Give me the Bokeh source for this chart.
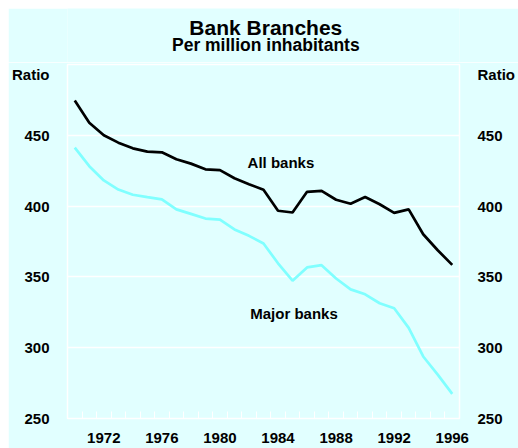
from bokeh.plotting import figure
from bokeh.models import FixedTicker, LinearAxis, Label, ColumnDataSource, Range1d
from bokeh.layouts import column
from bokeh.embed import file_html
from bokeh.resources import INLINE

# ---- data ----
years = list(range(1970, 1997))
all_banks = [474.6, 458.9, 450.0, 444.8, 440.8, 438.5, 438.0, 433.1, 430.0, 426.0,
             425.4, 419.7, 415.5, 411.5, 396.7, 395.5, 410.1, 410.8, 404.5, 401.7,
             406.4, 401.3, 395.2, 397.7, 380.1, 368.8, 358.5]
major_banks = [441.3, 428.2, 418.1, 411.7, 408.0, 406.3, 404.7, 397.7, 394.5, 391.2,
               390.5, 383.5, 379.0, 373.6, 359.6, 347.3, 356.7, 358.3, 348.9, 341.2,
               337.7, 331.4, 327.9, 314.0, 293.8, 281.0, 267.4]
y_ticks = [250, 300, 350, 400, 450]
x_label_years = [1972, 1976, 1980, 1984, 1988, 1992, 1996]
year_boundaries = list(range(1971, 1997))

title_text = "Bank Branches"
subtitle_text = "Per million inhabitants"
unit_text = "Ratio"
unit_level = 493  # where the "Ratio" heading sits on the value axis

BG = "#E1FFFF"
CYAN = "#80FFFF"
FONT = "Liberation Sans"

# ---- title strip ----
W = 510
TH = 54
tf = figure(width=W, height=TH, x_range=Range1d(0, W), y_range=Range1d(TH, 0),
            output_backend="svg", toolbar_location=None,
            background_fill_color=BG, border_fill_color=BG,
            min_border_left=0, min_border_right=0, min_border_top=0, min_border_bottom=0,
            x_axis_location=None, y_axis_location=None)
tf.grid.visible = False
tf.outline_line_color = None

def label(fig, text, x, y, size):
    fig.add_layout(Label(x=x, y=y, text=text, text_font=FONT, text_font_style="bold",
                         text_font_size=size, text_align="center",
                         text_baseline="middle", text_color="black"))

label(tf, title_text, 258, 18.5, "21px")
label(tf, subtitle_text, 258, 36.5, "17.5px")

# ---- chart ----
x_mid = [y + 0.5 for y in years]
src = ColumnDataSource(dict(x=x_mid, all=all_banks, major=major_banks))

p = figure(width=W, height=386, x_range=(1970, 1997), y_range=(250, 500),
           output_backend="svg", toolbar_location=None,
           background_fill_color=BG, border_fill_color=BG,
           min_border_left=54, min_border_right=49, min_border_top=2, min_border_bottom=30,
           y_axis_location=None, x_axis_location=None)

p.outline_line_color = "white"
p.outline_line_width = 1.5
p.xgrid.visible = False

p.line("x", "all", source=src, line_color="black", line_width=2.7)
p.line("x", "major", source=src, line_color=CYAN, line_width=2.7)

def style_axis(ax):
    ax.axis_line_color = None
    ax.major_label_text_font = FONT
    ax.major_label_text_font_style = "bold"
    ax.major_label_text_font_size = "15px"
    ax.major_label_text_color = "black"

for side in ("left", "right"):
    ax = LinearAxis(ticker=FixedTicker(ticks=y_ticks + [unit_level]))
    style_axis(ax)
    ax.major_tick_line_color = None
    ax.minor_tick_line_color = None
    ax.major_label_standoff = 12
    ax.major_label_overrides = {unit_level: unit_text}
    p.add_layout(ax, side)

p.ygrid.ticker = FixedTicker(ticks=y_ticks)
p.ygrid.grid_line_color = "white"
p.ygrid.grid_line_width = 1.5

xax = LinearAxis(ticker=FixedTicker(ticks=[y + 0.5 for y in x_label_years],
                                    minor_ticks=year_boundaries))
style_axis(xax)
xax.major_tick_line_color = None
xax.minor_tick_line_color = "white"
xax.minor_tick_in = 7
xax.minor_tick_out = 0
xax.minor_tick_line_width = 1
xax.major_label_standoff = 8
xax.major_label_overrides = {y + 0.5: str(y) for y in x_label_years}
p.add_layout(xax, "below")

# series labels (data units)
label(p, "All banks", 1984.7, 431, "15px")
label(p, "Major banks", 1985.6, 324, "15px")

layout = column(tf, p, spacing=0, margin=(8, 0, 0, 8))
open("out.html", "w").write(file_html(layout, INLINE))
